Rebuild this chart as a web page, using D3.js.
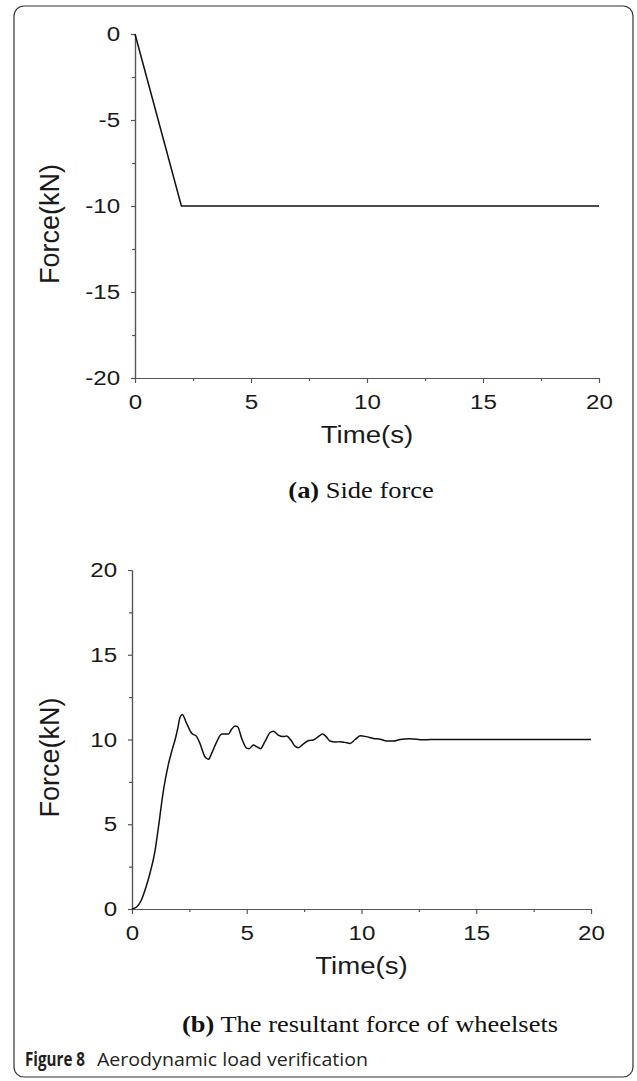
<!DOCTYPE html>
<html>
<head>
<meta charset="utf-8">
<script src="https://cdn.jsdelivr.net/npm/d3@7"></script>
<style>
  body { margin: 0; background: #fff; }
  svg { display: block; }
</style>
</head>
<body>
<div id="container"></div>
<script>
/* DATA */
const timeTicks = [0, 5, 10, 15, 20];
const timeMinor = [2.5, 7.5, 12.5, 17.5];

// (a) side force
const sideTime = [0, 2, 20];
const sideForce = [0, -10, -10];
const sideTicks = [-20, -15, -10, -5, 0];
const sideMinor = [-17.5, -12.5, -7.5, -2.5];

// (b) resultant force of wheelsets
const resTime = [0, 0.2, 0.4, 0.6, 0.8, 1.0, 1.15, 1.37, 1.58, 1.75, 1.9, 2.0, 2.09, 2.19,
  2.38, 2.6, 2.82, 2.96, 3.18, 3.33, 3.47, 3.66, 3.91, 4.2, 4.34, 4.49, 4.6, 4.78, 5.0, 5.1, 5.29,
  5.43, 5.6, 5.79, 6.01, 6.16, 6.37, 6.59, 6.74, 6.92, 7.1, 7.25, 7.46, 7.68, 7.9, 8.12, 8.31, 8.46,
  8.63, 8.85, 9.07, 9.28, 9.5, 9.72, 9.96, 10.2, 10.52, 10.81, 11.1, 11.39, 11.68, 12.1, 12.7, 13, 20];
const resForce = [0, 0.12, 0.5, 1.25, 2.2, 3.4, 4.8, 7.0, 8.5, 9.4, 10.1, 10.7, 11.3, 11.48,
  10.95, 10.37, 10.17, 9.77, 8.98, 8.83, 9.18, 9.77, 10.32, 10.32, 10.6, 10.8, 10.76, 10.06, 9.48, 9.46, 9.67,
  9.58, 9.46, 9.87, 10.4, 10.48, 10.26, 10.17, 10.2, 9.97, 9.61, 9.52, 9.73, 9.93, 9.97, 10.17, 10.32, 10.17,
  9.91, 9.85, 9.87, 9.83, 9.77, 10.0, 10.22, 10.17, 10.06, 10.02, 9.91, 9.91, 10.0, 10.05, 9.98, 10, 10];
const resTicks = [0, 5, 10, 15, 20];
const resMinor = [2.5, 7.5, 12.5, 17.5];

/* CONSTANTS */
const width = 637;
const height = 1081;
const stretch = 1.15;
const sans = "Liberation Sans, Arial, sans-serif";
const serif = "Liberation Serif, Times New Roman, serif";

const svg = d3.select("#container")
  .append("svg")
  .attr("width", width)
  .attr("height", height);

// figure frame
svg.append("rect")
  .attr("x", 14).attr("y", 6)
  .attr("width", 619).attr("height", 1071)
  .attr("rx", 10)
  .attr("fill", "none")
  .attr("stroke", "#333")
  .attr("stroke-width", 1.2);

function drawPanel(opt) {
  const xScale = d3.scaleLinear().domain([0, 20]).range(opt.xRange);
  const yScale = d3.scaleLinear().domain(opt.yDomain).range(opt.yRange);
  const g = svg.append("g");

  // minor ticks
  g.append("g")
    .attr("transform", `translate(0,${opt.yRange[0]})`)
    .call(d3.axisBottom(xScale).tickValues(timeMinor).tickSize(3).tickSizeOuter(0).tickFormat(""));
  g.append("g")
    .attr("transform", `translate(${opt.xRange[0]},0)`)
    .call(d3.axisLeft(yScale).tickValues(opt.minor).tickSize(3).tickSizeOuter(0).tickFormat(""));

  // major axes
  const xAxis = g.append("g")
    .attr("transform", `translate(0,${opt.yRange[0]})`)
    .call(d3.axisBottom(xScale).tickValues(timeTicks).tickSize(5).tickPadding(11)
      .tickSizeOuter(0).tickFormat(d => String(d)));
  const yAxis = g.append("g")
    .attr("transform", `translate(${opt.xRange[0]},0)`)
    .call(d3.axisLeft(yScale).tickValues(opt.ticks).tickSize(4).tickPadding(9)
      .tickSizeOuter(0).tickFormat(d => String(d)));

  g.selectAll(".domain, .tick line").attr("stroke", "#555").attr("stroke-width", 1.2);
  g.selectAll("text").attr("font-family", sans).attr("font-size", 21).attr("fill", "#1a1a1a");
  xAxis.selectAll("text").attr("transform", `scale(${stretch},1)`);
  yAxis.selectAll("text").attr("transform", `scale(${stretch},1)`);

  // axis titles
  const xMid = (opt.xRange[0] + opt.xRange[1]) / 2;
  g.append("text")
    .attr("transform", `translate(${xMid},${opt.yRange[0] + 65}) scale(${stretch},1)`)
    .attr("text-anchor", "middle")
    .attr("font-family", sans).attr("font-size", 24).attr("fill", "#1a1a1a")
    .text("Time(s)");
  const yMid = (opt.yRange[0] + opt.yRange[1]) / 2 + 18;
  g.append("text")
    .attr("transform", `translate(59,${yMid}) rotate(-90)`)
    .attr("text-anchor", "middle")
    .attr("font-family", sans).attr("font-size", 27).attr("fill", "#1a1a1a")
    .text("Force(kN)");

  // data line
  const pts = opt.t.map((t, i) => [t, opt.f[i]]);
  g.append("path")
    .datum(pts)
    .attr("fill", "none")
    .attr("stroke", "#111")
    .attr("stroke-width", 1.5)
    .attr("stroke-linejoin", "round")
    .attr("d", d3.line()
      .x(d => xScale(d[0]))
      .y(d => yScale(d[1]))
      .curve(opt.curve));

  // caption
  const cap = g.append("text")
    .attr("transform", `translate(${opt.capX},${opt.capY}) scale(${stretch},1)`)
    .attr("text-anchor", "middle")
    .attr("font-family", serif).attr("font-size", 23).attr("fill", "#111");
  cap.append("tspan").attr("font-weight", "bold").text(opt.capBold);
  cap.append("tspan").text(" " + opt.capText);
}

drawPanel({
  xRange: [135, 599], yDomain: [-20, 0], yRange: [378, 34],
  ticks: sideTicks, minor: sideMinor,
  t: sideTime, f: sideForce, curve: d3.curveLinear,
  capX: 361, capY: 498, capBold: "(a)", capText: "Side force"
});

drawPanel({
  xRange: [132, 591], yDomain: [0, 20], yRange: [909, 570],
  ticks: resTicks, minor: resMinor,
  t: resTime, f: resForce, curve: d3.curveMonotoneX,
  capX: 370, capY: 1032, capBold: "(b)", capText: "The resultant force of wheelsets"
});

// figure caption
const capFont = "Open Sans, Noto Sans, sans-serif";
svg.append("text")
  .attr("x", 25).attr("y", 1066)
  .attr("font-family", capFont).attr("font-size", 19).attr("font-weight", "bold")
  .attr("fill", "#231f20")
  .attr("textLength", 60).attr("lengthAdjust", "spacingAndGlyphs")
  .text("Figure 8");
svg.append("text")
  .attr("x", 97).attr("y", 1066)
  .attr("font-family", capFont).attr("font-size", 19)
  .attr("fill", "#231f20")
  .attr("textLength", 271).attr("lengthAdjust", "spacingAndGlyphs")
  .text("Aerodynamic load verification");
</script>
</body>
</html>
